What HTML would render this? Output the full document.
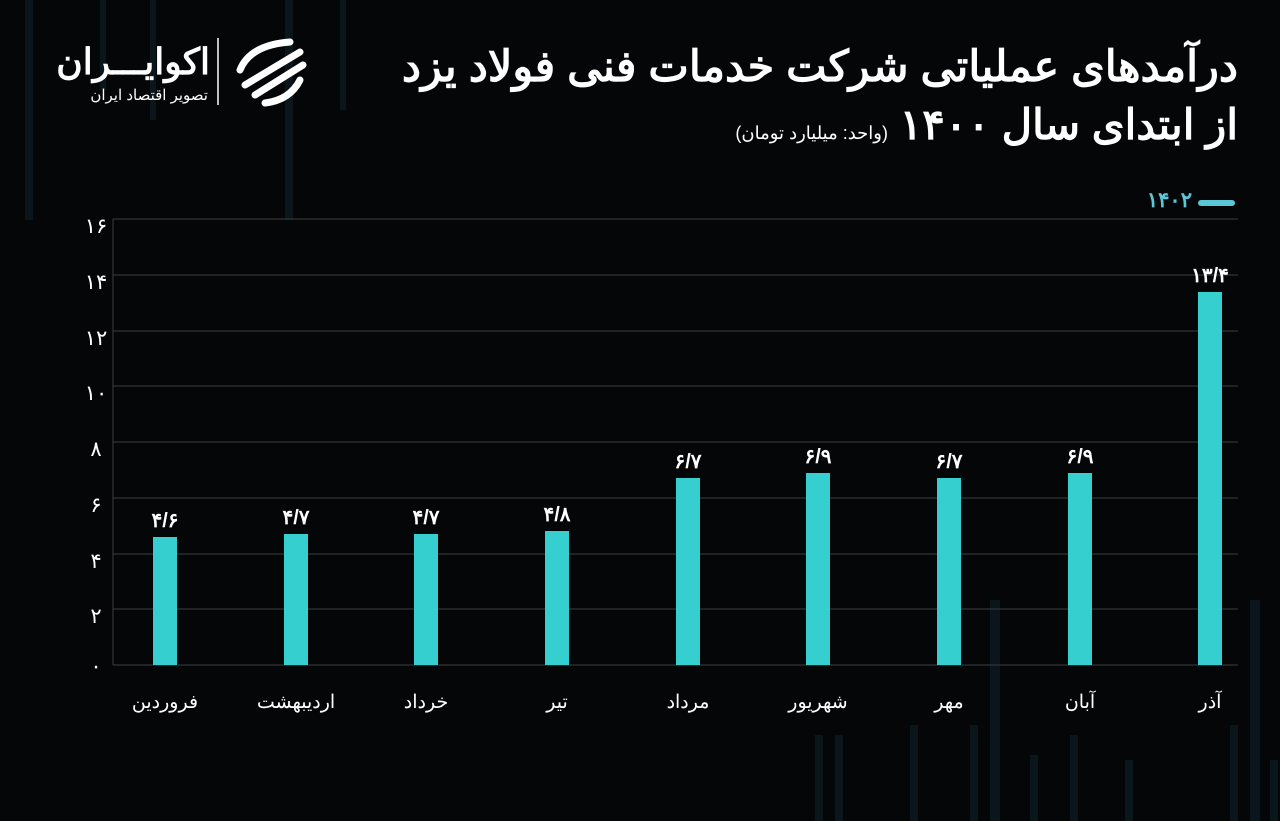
<!DOCTYPE html>
<html><head><meta charset="utf-8"><style>
html,body{margin:0;padding:0;background:#050607;}
body{width:1280px;height:821px;overflow:hidden;position:relative;font-family:"Liberation Sans","Noto Sans CJK SC",sans-serif;}
svg{position:absolute;left:0;top:0;}
svg text{font-family:"Liberation Sans","Noto Sans CJK SC",sans-serif;}
.t{position:absolute;color:#fff;direction:rtl;white-space:nowrap;line-height:1;}
</style></head><body>
<svg width="1280" height="821" viewBox="0 0 1280 821" xmlns="http://www.w3.org/2000/svg">
<rect width="1280" height="821" fill="#050607"/>
<g fill="#0c1a22" opacity="0.8">
<rect x="25" y="0" width="8" height="220"/><rect x="100" y="0" width="6" height="90"/>
<rect x="150" y="0" width="6" height="120"/><rect x="285" y="0" width="8" height="220"/>
<rect x="340" y="0" width="6" height="110"/><rect x="990" y="600" width="10" height="221"/>
<rect x="1250" y="600" width="10" height="221"/><rect x="815" y="735" width="8" height="86"/>
<rect x="835" y="735" width="8" height="86"/><rect x="910" y="725" width="8" height="96"/>
<rect x="970" y="725" width="8" height="96"/><rect x="1030" y="755" width="8" height="66"/>
<rect x="1070" y="735" width="8" height="86"/><rect x="1125" y="760" width="8" height="61"/>
<rect x="1230" y="725" width="8" height="96"/><rect x="1270" y="760" width="8" height="61"/>
</g>
<line x1="218" y1="38" x2="218" y2="105" stroke="#fff" stroke-width="1.5"/>
<g fill="none" stroke="#fff" stroke-width="7" stroke-linecap="round">
<path d="M290 42 Q250 45 240 70"/><path d="M300 52 L245 85"/><path d="M303 65 L255 95"/><path d="M300 80 Q290 100 265 103"/>
</g>
<rect x="1198" y="200" width="37" height="6" rx="3" fill="#5cc6d6"/>
<text x="1192" y="207" text-anchor="end" fill="#5cc6d6" font-size="21" font-weight="bold">۱۴۰۲</text>
<g stroke="#3a3d40" stroke-width="1">
<line x1="113" y1="219" x2="1238" y2="219"/><line x1="113" y1="275" x2="1238" y2="275"/>
<line x1="113" y1="331" x2="1238" y2="331"/><line x1="113" y1="386" x2="1238" y2="386"/>
<line x1="113" y1="442" x2="1238" y2="442"/><line x1="113" y1="498" x2="1238" y2="498"/>
<line x1="113" y1="554" x2="1238" y2="554"/><line x1="113" y1="609" x2="1238" y2="609"/>
<line x1="113" y1="665" x2="1238" y2="665"/><line x1="113" y1="219" x2="113" y2="665"/>
</g>
<g fill="#fff" font-size="21" text-anchor="middle">
<text x="96" y="233">۱۶</text><text x="96" y="289">۱۴</text><text x="96" y="345">۱۲</text>
<text x="96" y="400">۱۰</text><text x="96" y="456">۸</text><text x="96" y="512">۶</text>
<text x="96" y="568">۴</text><text x="96" y="623">۲</text><text x="96" y="673">۰</text>
</g>
<g fill="#36cfcf">
<rect x="153" y="537" width="24" height="128"/><rect x="284" y="534" width="24" height="131"/>
<rect x="414" y="534" width="24" height="131"/><rect x="545" y="531" width="24" height="134"/>
<rect x="676" y="478" width="24" height="187"/><rect x="806" y="473" width="24" height="192"/>
<rect x="937" y="478" width="24" height="187"/><rect x="1068" y="473" width="24" height="192"/>
<rect x="1198" y="292" width="24" height="373"/>
</g>
<g fill="#fff" font-size="20" font-weight="bold" text-anchor="middle">
<text x="165" y="527">۴/۶</text><text x="296" y="524">۴/۷</text><text x="426" y="524">۴/۷</text>
<text x="557" y="521">۴/۸</text><text x="688" y="468">۶/۷</text><text x="818" y="463">۶/۹</text>
<text x="949" y="468">۶/۷</text><text x="1080" y="463">۶/۹</text><text x="1210" y="282">۱۳/۴</text>
</g>
<g fill="#fff" font-size="19" text-anchor="middle">
<text x="165" y="708">فروردین</text><text x="296" y="708">اردیبهشت</text><text x="426" y="708">خرداد</text>
<text x="557" y="708">تیر</text><text x="688" y="708">مرداد</text><text x="818" y="708">شهریور</text>
<text x="949" y="708">مهر</text><text x="1080" y="708">آبان</text><text x="1210" y="708">آذر</text>
</g>
</svg>
<div class="t" style="right:42px;top:46px;font-size:43px;font-weight:bold;">درآمدهای عملیاتی شرکت خدمات فنی فولاد یزد</div>
<div class="t" style="right:42px;top:104px;font-size:42px;font-weight:bold;">از ابتدای سال ۱۴۰۰ <span style="font-size:18px;font-weight:normal;">(واحد: میلیارد تومان)</span></div>
<div class="t" style="right:1070px;top:44px;font-size:36px;font-weight:bold;">اکوایـــران</div>
<div class="t" style="right:1072px;top:88px;font-size:15px;">تصویر اقتصاد ایران</div>
</body></html>
